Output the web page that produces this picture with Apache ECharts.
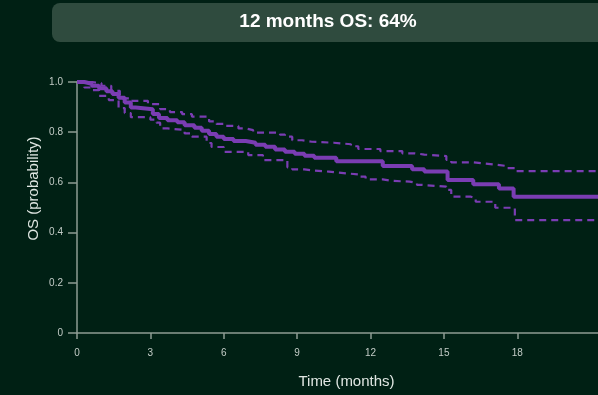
<!DOCTYPE html>
<html>
<head>
<meta charset="utf-8">
<script src="https://cdn.jsdelivr.net/npm/echarts@6/dist/echarts.min.js"></script>
<style>
html,body{margin:0;padding:0;background:#002014;}
#chart{width:598px;height:395px;}
</style>
</head>
<body>
<div id="chart"></div>
<script>
const titleText = '12 months OS: 64%';
const xTicks = [0, 3, 6, 9, 12, 15, 18];
const yTicks = [0, 0.2, 0.4, 0.6, 0.8, 1.0];

// Kaplan-Meier estimate (time in months, survival probability)
const osTime = [0, 0.3, 0.6, 0.9, 1.2, 1.45, 1.7, 1.95, 2.2, 2.4, 3.1, 3.35, 3.7, 4.1, 4.4, 4.8, 5.1, 5.4, 5.7, 6.0, 6.4, 6.9, 7.3, 7.7, 8.1, 8.5, 8.9, 9.3, 9.7, 10.6, 12.5, 13.7, 14.2, 15.15, 16.2, 17.25, 17.85, 21.3];
const osProb = [1.0, 0.993, 0.985, 0.975, 0.963, 0.952, 0.937, 0.918, 0.898, 0.891, 0.873, 0.857, 0.848, 0.840, 0.828, 0.818, 0.806, 0.793, 0.782, 0.773, 0.765, 0.758, 0.750, 0.742, 0.731, 0.722, 0.714, 0.706, 0.698, 0.684, 0.665, 0.652, 0.643, 0.610, 0.593, 0.576, 0.543, 0.543];

// Upper confidence bound
const upperTime = [0, 0.6, 1.0, 1.4, 1.75, 2.2, 2.9, 3.4, 3.8, 4.3, 4.7, 5.4, 5.7, 6.1, 6.6, 6.9, 7.2, 8.3, 8.5, 8.8, 9.2, 9.6, 10.5, 11.2, 11.5, 12.4, 13.3, 13.8, 14.2, 15.1, 15.3, 16.2, 16.6, 17.1, 17.6, 17.9, 21.3];
const upperProb = [1.0, 0.995, 0.985, 0.965, 0.935, 0.925, 0.912, 0.892, 0.880, 0.872, 0.862, 0.843, 0.833, 0.825, 0.815, 0.808, 0.798, 0.790, 0.782, 0.768, 0.762, 0.758, 0.752, 0.744, 0.733, 0.725, 0.716, 0.711, 0.705, 0.690, 0.680, 0.676, 0.671, 0.665, 0.657, 0.645, 0.645];

// Lower confidence bound
const lowerTime = [0, 0.3, 0.6, 0.9, 1.3, 1.7, 1.95, 2.2, 3.0, 3.25, 3.4, 3.7, 4.4, 4.7, 5.3, 5.5, 6.0, 7.0, 7.6, 8.6, 8.8, 9.3, 9.7, 10.3, 10.7, 11.0, 11.5, 11.8, 12.5, 12.9, 13.6, 13.9, 14.1, 15.1, 15.3, 16.1, 16.3, 17.1, 17.9, 21.3];
const lowerProb = [1.0, 0.978, 0.968, 0.945, 0.928, 0.896, 0.876, 0.860, 0.850, 0.838, 0.815, 0.809, 0.795, 0.782, 0.757, 0.741, 0.722, 0.709, 0.689, 0.660, 0.652, 0.647, 0.643, 0.639, 0.636, 0.632, 0.623, 0.612, 0.606, 0.603, 0.598, 0.590, 0.583, 0.570, 0.543, 0.538, 0.523, 0.499, 0.450, 0.450];

const zip = (a, b) => a.map((v, i) => [v, b[i]]);
const purple = '#7a3db3';
const axisColor = '#8d9c93';
const labelColor = '#c3ccc7';
const fontFam = 'Arial, "Liberation Sans", sans-serif';

const chart = echarts.init(document.getElementById('chart'), null, {renderer: 'canvas'});
chart.setOption({
  backgroundColor: '#002014',
  animation: false,
  graphic: [
    {type: 'rect', left: 52, top: 3, shape: {width: 560, height: 39, r: 8}, style: {fill: '#2f4b3e'}, z: 10},
    {type: 'text', x: 328, y: 22, style: {text: titleText, fill: '#ffffff', font: 'bold 19px Arial, "Liberation Sans", sans-serif', align: 'center', verticalAlign: 'middle'}, z: 11}
  ],
  grid: {left: 77, right: 0, top: 82, bottom: 62, containLabel: false},
  xAxis: {
    type: 'value', min: 0, max: 21.3,
    name: 'Time (months)', nameLocation: 'middle', nameGap: 41, nameMoveOverlap: false,
    nameTextStyle: {color: '#dfe6e2', fontSize: 15, fontFamily: fontFam, padding: [0, 0, 0, 18]},
    axisLine: {show: true, lineStyle: {color: axisColor, width: 1.5}},
    axisTick: {show: true, length: 6, lineStyle: {color: axisColor, width: 1.5}, customValues: xTicks},
    axisLabel: {color: labelColor, fontSize: 10, margin: 15, fontFamily: fontFam, customValues: xTicks},
    splitLine: {show: false}
  },
  yAxis: {
    type: 'value', min: 0, max: 1, interval: 0.2,
    name: 'OS (probability)', nameLocation: 'middle', nameGap: 36, nameRotate: 90, nameMoveOverlap: false,
    nameTextStyle: {color: '#dfe6e2', fontSize: 15, fontFamily: fontFam, padding: [0, 0, 0, 38]},
    axisLine: {show: true, lineStyle: {color: axisColor, width: 1.5}},
    axisTick: {show: true, length: 9, lineStyle: {color: axisColor, width: 1.5}},
    axisLabel: {color: labelColor, fontSize: 10, margin: 14, fontFamily: fontFam,
      formatter: v => v === 0 ? '0' : v.toFixed(1)},
    splitLine: {show: false}
  },
  series: [
    {type: 'line', step: 'end', data: zip(upperTime, upperProb), showSymbol: false, symbol: 'none',
      lineStyle: {color: purple, width: 2.2, type: [7, 5]}, z: 2},
    {type: 'line', step: 'end', data: zip(lowerTime, lowerProb), showSymbol: false, symbol: 'none',
      lineStyle: {color: purple, width: 2.2, type: [7, 5]}, z: 2},
    {type: 'line', step: 'end', data: zip(osTime, osProb), showSymbol: false, symbol: 'none',
      lineStyle: {color: purple, width: 4}, z: 3}
  ]
});
</script>
</body>
</html>
